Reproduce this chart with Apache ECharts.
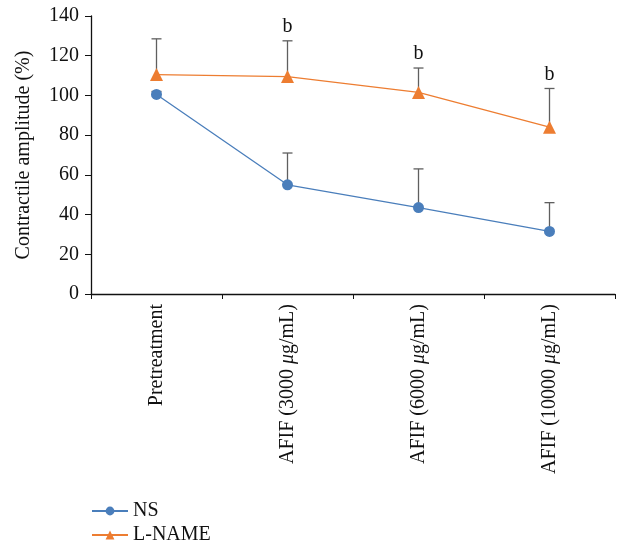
<!DOCTYPE html>
<html>
<head>
<meta charset="utf-8">
<script src="https://cdn.jsdelivr.net/npm/echarts@6/dist/echarts.min.js"></script>
<style>
  html, body { margin: 0; padding: 0; background: #fff; }
  #main { width: 618px; height: 546px; }
</style>
</head>
<body>
<div id="main"></div>
<script>
// categories and values
const categories = ['Pretreatment', 'AFIF (3000 μg/mL)', 'AFIF (6000 μg/mL)', 'AFIF (10000 μg/mL)']
const nsMean = [100.5, 55, 43.5, 31.5]
const nsErr = [1.5, 16, 19.5, 14.5]
const lnameMean = [110.5, 109.5, 101.5, 84]
const lnameErr = [18, 18, 12.3, 19.5]
const sigMarks = ['', 'b', 'b', 'b']

const FONT = 'Liberation Serif'
const FS = 20
const BLUE = '#4a7ebb'
const ORANGE = '#ed7d31'

function errData (mean, err) {
  return mean.map((m, i) => [i, m, err[i]])
}

function errorBars (name, mean, err, marks) {
  return {
    type: 'custom',
    name: name,
    z: 1,
    silent: true,
    data: errData(mean, err),
    renderItem (params, api) {
      const p0 = api.coord([api.value(0), api.value(1)])
      const p1 = api.coord([api.value(0), api.value(1) + api.value(2)])
      const style = { stroke: '#5f5f5f', lineWidth: 1.3 }
      const children = [
        { type: 'line', shape: { x1: p0[0], y1: p0[1], x2: p1[0], y2: p1[1] }, style },
        { type: 'line', shape: { x1: p1[0] - 5, y1: p1[1], x2: p1[0] + 5, y2: p1[1] }, style }
      ]
      const mark = marks ? marks[params.dataIndex] : ''
      if (mark) {
        children.push({
          type: 'text',
          style: {
            text: mark, x: p1[0], y: p1[1] - 4,
            align: 'center', verticalAlign: 'bottom',
            font: FS + 'px "' + FONT + '"', fill: '#111'
          }
        })
      }
      return { type: 'group', children }
    }
  }
}

function legendFor (name, top) {
  return {
    orient: 'horizontal',
    left: 86,
    top: top,
    itemWidth: 36,
    itemHeight: 11,
    textStyle: { fontFamily: FONT, fontSize: FS, color: '#111' },
    data: [name]
  }
}

const chart = echarts.init(document.getElementById('main'))
chart.setOption({
  animation: false,
  textStyle: { fontFamily: FONT, color: '#111' },
  grid: { left: 91, right: 3, top: 16, bottom: 252, containLabel: false, outerBoundsMode: 'none' },
  legend: [legendFor('NS', 496), legendFor('L-NAME', 520)],
  xAxis: {
    type: 'category',
    data: categories,
    boundaryGap: true,
    axisLine: { lineStyle: { color: '#111', width: 1.3 } },
    axisTick: { show: true, length: 5, lineStyle: { color: '#111' } },
    axisLabel: {
      rotate: 90,
      margin: 10,
      fontSize: FS,
      color: '#111',
      fontFamily: FONT,
      formatter (v) {
        return v.replace('μ', '{i|μ}')
      },
      rich: {
        i: { fontStyle: 'italic', fontSize: FS, fontFamily: FONT, color: '#111' }
      }
    }
  },
  yAxis: {
    type: 'value',
    min: 0,
    max: 140,
    interval: 20,
    name: 'Contractile amplitude (%)',
    nameLocation: 'middle',
    nameGap: 57,
    nameTextStyle: { fontSize: FS, fontFamily: FONT, color: '#111' },
    axisLine: { show: true, lineStyle: { color: '#111', width: 1.3 } },
    axisTick: { show: true, length: 6, lineStyle: { color: '#111' } },
    axisLabel: { fontSize: FS, color: '#111', fontFamily: FONT, margin: 12 },
    splitLine: { show: false }
  },
  series: [
    errorBars('NS-err', nsMean, nsErr, null),
    errorBars('L-NAME-err', lnameMean, lnameErr, sigMarks),
    {
      name: 'NS',
      type: 'line',
      z: 3,
      data: nsMean,
      symbol: 'circle',
      symbolSize: 11,
      itemStyle: { color: BLUE },
      lineStyle: { color: BLUE, width: 1.3 }
    },
    {
      name: 'L-NAME',
      type: 'line',
      z: 3,
      data: lnameMean,
      symbol: 'triangle',
      symbolSize: 13,
      itemStyle: { color: ORANGE },
      lineStyle: { color: ORANGE, width: 1.3 }
    }
  ]
})
</script>
</body>
</html>
